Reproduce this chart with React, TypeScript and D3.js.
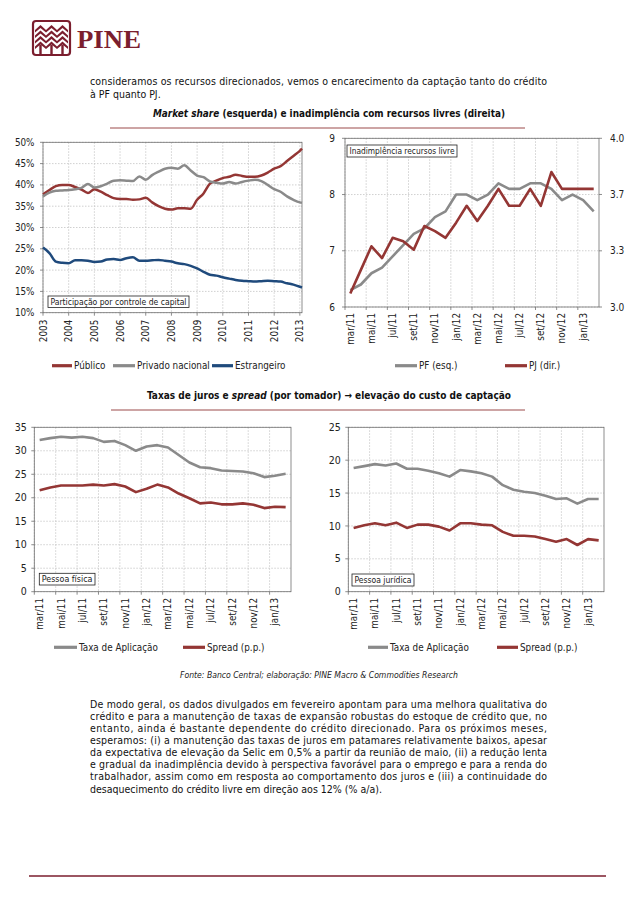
import React from "react";
import * as d3 from "d3";

const FONT = "'DejaVu Sans Condensed', 'DejaVu Sans', sans-serif";
const RED = "#943634";
const GREY = "#8a8a8a";
const BLUE = "#1f4a7c";
const MAROON = "#7b1e2e";
const GRID = "#c4c4c4";
const FRAME = "#707070";

// Market share (% of credit stock), quarterly readings
const shareMonths = [
  "2003-01", "2003-04", "2003-07", "2003-10", "2004-01", "2004-04", "2004-07", "2004-10",
  "2005-01", "2005-04", "2005-07", "2005-10", "2006-01", "2006-04", "2006-07", "2006-10",
  "2007-01", "2007-04", "2007-07", "2007-10", "2008-01", "2008-04", "2008-07", "2008-10",
  "2009-01", "2009-04", "2009-07", "2009-10", "2010-01", "2010-04", "2010-07", "2010-10",
  "2011-01", "2011-04", "2011-07", "2011-10", "2012-01", "2012-04", "2012-07", "2012-10",
  "2013-01", "2013-02",
];
const publico = [
  37.8, 38.8, 39.7, 40.0, 40.0, 39.5, 38.9, 38.1, 39.0, 38.4, 37.6, 36.9, 36.7, 36.7, 36.5, 36.6,
  37.0, 35.9, 35.0, 34.4, 34.2, 34.5, 34.5, 34.4, 36.5, 38.0, 40.3, 41.0, 41.6, 41.9, 42.4, 42.1,
  41.9, 41.9, 42.2, 42.9, 43.8, 44.4, 45.6, 46.8, 48.0, 48.5,
];
const privado = [
  37.3, 38.2, 38.6, 38.7, 38.8, 39.0, 39.3, 40.2, 39.4, 39.7, 40.3, 41.0, 41.1, 41.0, 40.9, 42.0,
  41.2, 42.3, 43.1, 43.8, 44.0, 43.8, 44.6, 43.4, 42.2, 41.8, 40.8, 40.5, 40.3, 40.7, 40.3, 40.7,
  41.0, 41.2, 40.9, 40.0, 39.0, 38.4, 37.3, 36.5, 35.9, 35.8,
];
const estrangeiro = [
  25.3, 24.0, 22.0, 21.7, 21.6, 22.3, 22.3, 22.2, 21.9, 22.0, 22.5, 22.6, 22.4, 22.8, 23.0, 22.2,
  22.2, 22.3, 22.4, 22.2, 22.0, 21.6, 21.4, 21.0, 20.4, 19.6, 18.9, 18.7, 18.3, 18.0, 17.7, 17.5,
  17.4, 17.3, 17.4, 17.5, 17.4, 17.3, 16.9, 16.6, 16.1, 15.9,
];
const shareYears = ["2003", "2004", "2005", "2006", "2007", "2008", "2009", "2010", "2011", "2012", "2013"];
const shareTicks = [10, 15, 20, 25, 30, 35, 40, 45, 50];

// monthly series mar/11 .. fev/13
const months = [
  "mar/11", "abr/11", "mai/11", "jun/11", "jul/11", "ago/11", "set/11", "out/11", "nov/11", "dez/11",
  "jan/12", "fev/12", "mar/12", "abr/12", "mai/12", "jun/12", "jul/12", "ago/12", "set/12", "out/12",
  "nov/12", "dez/12", "jan/13", "fev/13",
];
const pf = [6.3, 6.4, 6.6, 6.7, 6.9, 7.1, 7.3, 7.4, 7.6, 7.7, 8.0, 8.0, 7.9, 8.0, 8.2, 8.1, 8.1, 8.2, 8.2, 8.1, 7.9, 8.0, 7.9, 7.7];
const pj = [3.08, 3.22, 3.36, 3.29, 3.41, 3.39, 3.34, 3.48, 3.45, 3.41, 3.5, 3.6, 3.51, 3.6, 3.7, 3.6, 3.6, 3.7, 3.6, 3.8, 3.7, 3.7, 3.7, 3.7];
const pfTicks = [6, 7, 8, 9];
const pjTicks = [3.0, 3.333, 3.667, 4.0];

const taxaPF = [32.3, 32.7, 33.0, 32.8, 33.0, 32.7, 31.9, 32.1, 31.2, 30.0, 30.9, 31.2, 30.7, 29.1, 27.5, 26.5, 26.3, 25.8, 25.7, 25.6, 25.2, 24.4, 24.7, 25.1];
const spreadPF = [21.6, 22.2, 22.6, 22.6, 22.6, 22.8, 22.6, 22.9, 22.4, 21.2, 21.9, 22.8, 22.2, 20.9, 19.9, 18.8, 19.0, 18.6, 18.6, 18.8, 18.5, 17.8, 18.1, 18.0];
const pfRateTicks = [0, 5, 10, 15, 20, 25, 30, 35];

const taxaPJ = [18.8, 19.1, 19.4, 19.2, 19.5, 18.7, 18.7, 18.4, 18.0, 17.5, 18.5, 18.3, 18.0, 17.5, 16.2, 15.5, 15.2, 15.0, 14.6, 14.1, 14.2, 13.4, 14.1, 14.1];
const spreadPJ = [9.7, 10.1, 10.4, 10.1, 10.5, 9.7, 10.2, 10.2, 9.9, 9.3, 10.4, 10.4, 10.2, 10.1, 9.1, 8.5, 8.5, 8.4, 8.0, 7.6, 8.0, 7.1, 8.0, 7.8];
const pjRateTicks = [0, 5, 10, 15, 20, 25];

const topText = [
  "consideramos os recursos direcionados, vemos o encarecimento da captação tanto do crédito",
  "à PF quanto PJ.",
];
const bodyText = [
  "De modo geral, os dados divulgados em fevereiro apontam para uma melhora qualitativa do",
  "crédito e para a manutenção de taxas de expansão robustas do estoque de crédito que, no",
  "entanto, ainda é bastante dependente do crédito direcionado. Para os próximos meses,",
  "esperamos: (i) a manutenção das taxas de juros em patamares relativamente baixos, apesar",
  "da expectativa de elevação da Selic em 0,5% a partir da reunião de maio, (ii) a redução lenta",
  "e gradual da inadimplência devido à perspectiva favorável para o emprego e para a renda do",
  "trabalhador, assim como em resposta ao comportamento dos juros e (iii) a continuidade do",
  "desaquecimento do crédito livre em direção aos 12% (% a/a).",
];

const toYear = (s: string) => {
  const [yy, mm] = s.split("-").map(Number);
  return yy + (mm - 1) / 12;
};

type LegendItem = { x1: number; x2: number; tx: number; label: string; color: string };

const Legend = ({ items, y }: { items: LegendItem[]; y: number }) => (
  <g>
    {items.map((it) => (
      <g key={it.label}>
        <line x1={it.x1} x2={it.x2} y1={y} y2={y} stroke={it.color} strokeWidth={3.2} />
        <text x={it.tx} y={y + 3.5} fontSize={9.8} fill="#222">{it.label}</text>
      </g>
    ))}
  </g>
);

const LabelBox = ({ x, y, w, h, text }: { x: number; y: number; w: number; h: number; text: string }) => (
  <g>
    <rect x={x} y={y} width={w} height={h} fill="#fff" stroke="#222" strokeWidth={0.8} />
    <text x={x + 2.5} y={y + h - 2.8} fontSize={8.5} fill="#222" textLength={w - 5} lengthAdjust="spacingAndGlyphs">{text}</text>
  </g>
);

function ShareChart() {
  const L = 43, R = 302, T = 142.3, B = 312.7;
  const x = d3.scaleLinear().domain([toYear(shareMonths[0]), toYear(shareMonths[shareMonths.length - 1])]).range([L, R]);
  const y = d3.scaleLinear().domain([10, 50]).range([B, T]);
  const path = (vals: number[]) =>
    d3.line<number>().x((_, i) => x(toYear(shareMonths[i]))).y((v) => y(v)).curve(d3.curveMonotoneX)(vals) ?? "";
  const series = [
    { vals: publico, color: RED },
    { vals: privado, color: GREY },
    { vals: estrangeiro, color: BLUE },
  ];
  return (
    <g>
      {shareTicks.map((v) => (
        <line key={v} x1={L} x2={R} y1={y(v)} y2={y(v)} stroke={GRID} strokeWidth={0.8} strokeDasharray="1.5,1.5" />
      ))}
      {shareYears.map((yr) => (
        <g key={yr}>
          <line x1={x(+yr)} x2={x(+yr)} y1={T} y2={B} stroke={GRID} strokeWidth={0.8} strokeDasharray="1.5,1.5" />
          <line x1={x(+yr)} x2={x(+yr)} y1={B} y2={B + 3} stroke={FRAME} strokeWidth={0.8} />
          <text transform={`translate(${x(+yr) + 3.5},${B + 7}) rotate(-90)`} textAnchor="end" fontSize={9.8} fill="#222">{yr}</text>
        </g>
      ))}
      <rect x={L} y={T} width={R - L} height={B - T} fill="none" stroke={FRAME} strokeWidth={0.8} />
      {shareTicks.map((v) => (
        <g key={v}>
          <line x1={L - 3} x2={L} y1={y(v)} y2={y(v)} stroke={FRAME} strokeWidth={0.8} />
          <text x={L - 8.5} y={y(v) + 3.5} textAnchor="end" fontSize={9.8} fill="#222">{`${v}%`}</text>
        </g>
      ))}
      {series.map((s) => (
        <path key={s.color} d={path(s.vals)} fill="none" stroke={s.color} strokeWidth={2.5} strokeLinejoin="round" />
      ))}
      <LabelBox x={48} y={296} w={141} h={11.5} text="Participação por controle de capital" />
      <Legend
        y={365.7}
        items={[
          { x1: 52, x2: 72, tx: 74, label: "Público", color: RED },
          { x1: 113, x2: 135, tx: 137, label: "Privado  nacional", color: GREY },
          { x1: 212, x2: 233, tx: 235, label: "Estrangeiro", color: BLUE },
        ]}
      />
    </g>
  );
}

type MSeries = { vals: number[]; color: string; right?: boolean };
type MProps = {
  left: number; right: number; top: number; bottom: number;
  yDomain: [number, number]; yTicks: number[]; yFont: number; yGap: number;
  rDomain?: [number, number]; rTicks?: number[];
  series: MSeries[];
  labelTop: number;
  box: { x: number; y: number; w: number; h: number; text: string };
  legend: LegendItem[]; legendY: number;
};

function MonthlyChart(p: MProps) {
  const x = d3.scaleBand<string>().domain(months).range([p.left, p.right]);
  const bw = x.bandwidth();
  const cx = (i: number) => (x(months[i]) ?? 0) + bw / 2;
  const y = d3.scaleLinear().domain(p.yDomain).range([p.bottom, p.top]);
  const y2 = p.rDomain ? d3.scaleLinear().domain(p.rDomain).range([p.bottom, p.top]) : y;
  const path = (s: MSeries) =>
    d3.line<number>().x((_, i) => cx(i)).y((v) => (s.right ? y2(v) : y(v)))(s.vals) ?? "";
  const labelIdx = months.map((_, i) => i).filter((i) => i % 2 === 0);
  return (
    <g>
      {p.yTicks.map((v) => (
        <line key={v} x1={p.left} x2={p.right} y1={y(v)} y2={y(v)} stroke={GRID} strokeWidth={0.8} strokeDasharray="1.5,1.5" />
      ))}
      {labelIdx.map((i) => (
        <g key={i}>
          <line x1={x(months[i])} x2={x(months[i])} y1={p.top} y2={p.bottom} stroke={GRID} strokeWidth={0.8} strokeDasharray="1.5,1.5" />
          <line x1={x(months[i])} x2={x(months[i])} y1={p.bottom} y2={p.bottom + 3} stroke={FRAME} strokeWidth={0.8} />
          <text transform={`translate(${cx(i) + 3.5},${p.labelTop}) rotate(-90)`} textAnchor="end" fontSize={9.8} fill="#222">{months[i]}</text>
        </g>
      ))}
      <rect x={p.left} y={p.top} width={p.right - p.left} height={p.bottom - p.top} fill="none" stroke={FRAME} strokeWidth={0.8} />
      {p.yTicks.map((v) => (
        <g key={v}>
          <line x1={p.left - 3} x2={p.left} y1={y(v)} y2={y(v)} stroke={FRAME} strokeWidth={0.8} />
          <text x={p.left - p.yGap} y={y(v) + 3.6} textAnchor="end" fontSize={p.yFont} fill="#222">{v}</text>
        </g>
      ))}
      {p.rTicks?.map((v) => (
        <g key={v}>
          <line x1={p.right} x2={p.right + 3} y1={y2(v)} y2={y2(v)} stroke={FRAME} strokeWidth={0.8} />
          <text x={p.right + 11} y={y2(v) + 3.6} fontSize={p.yFont} fill="#222">{d3.format(".1f")(v)}</text>
        </g>
      ))}
      {p.series.map((s) => (
        <path key={s.color} d={path(s)} fill="none" stroke={s.color} strokeWidth={2.6} strokeLinejoin="round" />
      ))}
      <LabelBox {...p.box} />
      <Legend items={p.legend} y={p.legendY} />
    </g>
  );
}

function Logo() {
  const x0 = 33, y0 = 21, w = 37, h = 34;
  const trees = [x0 + 7.5, x0 + 18.5, x0 + 29.5];
  return (
    <g>
      <rect x={x0} y={y0} width={w} height={h} rx={3} fill="none" stroke={MAROON} strokeWidth={2.2} />
      {trees.map((c) => (
        <g key={c} fill={MAROON}>
          {[0, 1, 2, 3].map((k) => {
            const ty = y0 + 4 + k * 5.5;
            return <path key={k} d={`M${c - 5.5},${ty + 5} L${c},${ty} L${c + 5.5},${ty + 5} L${c + 5.5},${ty + 7.5} L${c},${ty + 3} L${c - 5.5},${ty + 7.5}Z`} />;
          })}
          <rect x={c - 1.2} y={y0 + 24} width={2.4} height={h - 24} />
        </g>
      ))}
      <text x={77} y={48} fontFamily="'Liberation Serif', serif" fontWeight="bold" fontSize={25} fill={MAROON} textLength={64} lengthAdjust="spacingAndGlyphs">PINE</text>
    </g>
  );
}

export default function App() {
  return (
    <svg width={638} height={903} style={{ position: "absolute", left: 0, top: 0, background: "#fff" }} fontFamily={FONT}>
      <rect width={638} height={903} fill="#fff" />
      <Logo />

      {topText.map((t, i) => (
        <text key={i} x={90} y={84.5 + i * 13} fontSize={10.5} fill="#111"
          {...(i < topText.length - 1 ? { textLength: 457, lengthAdjust: "spacing" } : {})}>{t}</text>
      ))}

      <text x={329} y={117} textAnchor="middle" fontSize={10} fontWeight="bold" fill="#111" textLength={352} lengthAdjust="spacingAndGlyphs">
        <tspan fontStyle="italic">Market share</tspan> (esquerda) e inadimplência com recursos livres (direita)
      </text>
      <line x1={110} x2={525} y1={128} y2={128} stroke="#9b4a4a" strokeWidth={1} />

      <ShareChart />
      <MonthlyChart
        left={345} right={599} top={138.3} bottom={307}
        yDomain={[6, 9]} yTicks={pfTicks} yFont={10} yGap={10}
        rDomain={[3, 4]} rTicks={pjTicks}
        series={[{ vals: pf, color: GREY }, { vals: pj, color: RED, right: true }]}
        labelTop={313}
        box={{ x: 347, y: 145, w: 110, h: 12, text: "Inadimplência recursos livre" }}
        legendY={365.7}
        legend={[
          { x1: 395, x2: 417, tx: 419, label: "PF (esq.)", color: GREY },
          { x1: 505, x2: 527, tx: 529, label: "PJ (dir.)", color: RED },
        ]}
      />

      <text x={329} y={399} textAnchor="middle" fontSize={10} fontWeight="bold" fill="#111" textLength={364} lengthAdjust="spacingAndGlyphs">
        Taxas de juros e <tspan fontStyle="italic">spread</tspan> (por tomador) → elevação do custo de captação
      </text>
      <line x1={111} x2={525} y1={410} y2={410} stroke="#9b4a4a" strokeWidth={1} />

      <MonthlyChart
        left={34.3} right={291} top={427.3} bottom={591.7}
        yDomain={[0, 35]} yTicks={pfRateTicks} yFont={10.5} yGap={7.6}
        series={[{ vals: taxaPF, color: GREY }, { vals: spreadPF, color: RED }]}
        labelTop={598}
        box={{ x: 39.3, y: 573.3, w: 55.7, h: 11.7, text: "Pessoa física" }}
        legendY={647.3}
        legend={[
          { x1: 54, x2: 77, tx: 79, label: "Taxa de Aplicação", color: GREY },
          { x1: 183, x2: 205, tx: 207, label: "Spread (p.p.)", color: RED },
        ]}
      />
      <MonthlyChart
        left={348.3} right={604} top={427.3} bottom={591.7}
        yDomain={[0, 25]} yTicks={pjRateTicks} yFont={10.5} yGap={7.6}
        series={[{ vals: taxaPJ, color: GREY }, { vals: spreadPJ, color: RED }]}
        labelTop={598}
        box={{ x: 352, y: 574, w: 62, h: 12, text: "Pessoa jurídica" }}
        legendY={647.3}
        legend={[
          { x1: 368, x2: 388, tx: 390, label: "Taxa de Aplicação", color: GREY },
          { x1: 497, x2: 518, tx: 520, label: "Spread (p.p.)", color: RED },
        ]}
      />

      <text x={319} y={678} textAnchor="middle" fontSize={8} fontStyle="italic" fill="#222" textLength={278} lengthAdjust="spacingAndGlyphs">
        Fonte: Banco Central; elaboração: PINE Macro &amp; Commodities Research
      </text>

      {bodyText.map((t, i) => (
        <text key={i} x={90} y={707.5 + i * 12.15} fontSize={10.5} fill="#111"
          {...(i < bodyText.length - 1 ? { textLength: 457, lengthAdjust: "spacing" } : {})}>{t}</text>
      ))}

      <line x1={29} x2={606} y1={876} y2={876} stroke={MAROON} strokeWidth={1.5} />
    </svg>
  );
}
